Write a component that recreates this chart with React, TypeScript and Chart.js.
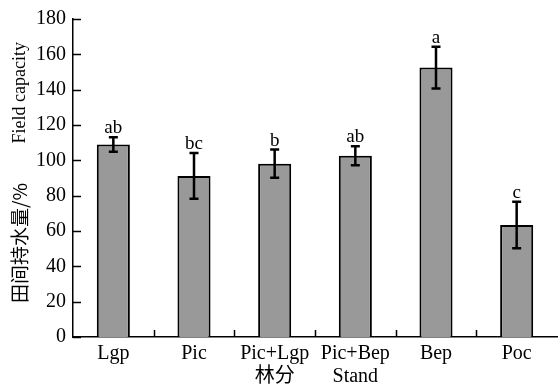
import React, { useEffect, useRef } from "react";
import { Chart, registerables } from "chart.js";
Chart.register(...registerables);

const categories: string[][] = [["Lgp"], ["Pic"], ["Pic+Lgp", "林分"], ["Pic+Bep", "Stand"], ["Bep"], ["Poc"]];
const means = [108.9, 91.2, 98.1, 102.6, 152.5, 63.4];
const errors = [4.1, 13.0, 8.0, 5.4, 11.8, 13.1];
const letters = ["ab", "bc", "b", "ab", "a", "c"];
const yMin = 0;
const yMax = 180;
const yStep = 20;
const yTitleZh = "田间持水量/%";
const yTitleEn = "Field capacity";

const SERIF = "'Liberation Serif', 'Times New Roman', 'Noto Sans CJK SC', serif";
const CJK = "'Noto Sans CJK SC', 'Liberation Serif', sans-serif";

export default function App() {
  const ref = useRef<HTMLCanvasElement>(null);
  useEffect(() => {
    document.body.style.margin = "0";
    const canvas = ref.current!;
    const extras = {
      id: "extras",
      afterDatasetsDraw(chart: any) {
        const ctx = chart.ctx;
        const meta = chart.getDatasetMeta(0);
        const ys = chart.scales.y;
        ctx.save();
        ctx.strokeStyle = "#000";
        ctx.lineWidth = 2.5;
        meta.data.forEach((bar: any, i: number) => {
          const x = bar.x;
          const top = ys.getPixelForValue(means[i] + errors[i]);
          const bot = ys.getPixelForValue(means[i] - errors[i]);
          ctx.beginPath();
          ctx.moveTo(x, top);
          ctx.lineTo(x, bot);
          ctx.moveTo(x - 4.5, top);
          ctx.lineTo(x + 4.5, top);
          ctx.moveTo(x - 4.5, bot);
          ctx.lineTo(x + 4.5, bot);
          ctx.stroke();
          ctx.fillStyle = "#000";
          ctx.font = `19px ${SERIF}`;
          ctx.textAlign = "center";
          ctx.textBaseline = "alphabetic";
          ctx.fillText(letters[i], x, top - 4);
        });
        ctx.restore();
      },
      afterDraw(chart: any) {
        const ctx = chart.ctx;
        const ys = chart.scales.y;
        const xs = chart.scales.x;
        const area = chart.chartArea;
        ctx.save();
        ctx.strokeStyle = "#000";
        ctx.lineWidth = 1.5;
        ctx.beginPath();
        ys.ticks.forEach((t: any) => {
          const y = Math.round(ys.getPixelForValue(t.value)) + 0.5;
          ctx.moveTo(area.left, y);
          ctx.lineTo(area.left + 8, y);
        });
        for (let i = 1; i < categories.length; i++) {
          const x = Math.round((xs.getPixelForTick(i - 1) + xs.getPixelForTick(i)) / 2) + 0.5;
          ctx.moveTo(x, area.bottom);
          ctx.lineTo(x, area.bottom - 7);
        }
        ctx.stroke();
        // y title
        ctx.fillStyle = "#000";
        ctx.translate(20, 0);
        ctx.rotate(-Math.PI / 2);
        ctx.textBaseline = "middle";
        ctx.textAlign = "left";
        ctx.font = `19px ${CJK}`;
        ctx.fillText(yTitleZh, -303, 0);
        ctx.font = `18px ${SERIF}`;
        ctx.textAlign = "right";
        ctx.fillText(yTitleEn, -42, 0);
        ctx.restore();
      },
    };
    const chart = new Chart(canvas, {
      type: "bar",
      data: {
        labels: categories,
        datasets: [
          {
            data: means,
            backgroundColor: "#999999",
            borderColor: "#000",
            borderWidth: 2,
            barPercentage: 0.41,
            categoryPercentage: 1,
          },
        ],
      },
      options: {
        animation: false,
        responsive: false,
        layout: { padding: { top: 15, right: 1, left: 0, bottom: 0 } },
        plugins: { legend: { display: false }, tooltip: { enabled: false } },
        scales: {
          x: {
            grid: { display: false, drawTicks: false },
            border: { display: true, color: "#000", width: 1.5 },
            ticks: { color: "#000", font: { family: SERIF, size: 20, lineHeight: 1.15 }, padding: 5, maxRotation: 0, autoSkip: false },
            afterFit: (s: any) => { s.height = 49; },
          },
          y: {
            min: yMin,
            max: yMax,
            grid: { display: false, drawTicks: false },
            border: { display: true, color: "#000", width: 1.5 },
            ticks: { stepSize: yStep, color: "#000", font: { family: SERIF, size: 20 }, padding: 7 },
            afterFit: (s: any) => { s.width = 73; },
          },
        },
      },
      plugins: [extras],
    });
    return () => chart.destroy();
  }, []);
  return <canvas ref={ref} width={558} height={386} style={{ display: "block" }} />;
}
